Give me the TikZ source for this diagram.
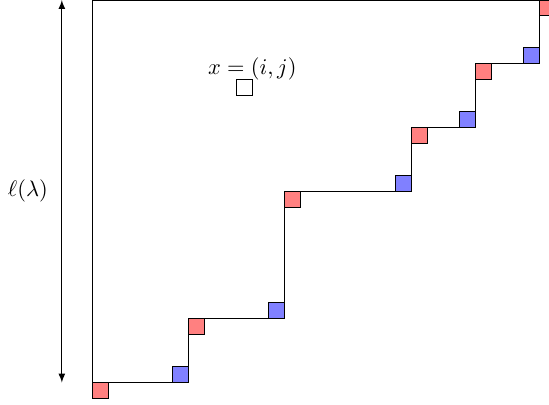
\documentclass[tikz,border=0pt]{standalone}
\usetikzlibrary{arrows}
\begin{document}
\begin{tikzpicture}[x=0.25cm,y=0.25cm,
  redsq/.style={draw=black,fill=red!50},
  bluesq/.style={draw=black,fill=blue!50},
  cellbox/.style={draw=black},
  stair/.style={draw=black},
  lenarrow/.style={latex-latex}]
\useasboundingbox (-5.83,-1.38) rectangle (28.61,24.0);
% corners of the staircase
\coordinate (c0) at (0,0);
\coordinate (c1) at (6,0);
\coordinate (c2) at (6,4);
\coordinate (c3) at (12,4);
\coordinate (c4) at (12,12);
\coordinate (c5) at (20,12);
\coordinate (c6) at (20,16);
\coordinate (c7) at (24,16);
\coordinate (c8) at (24,20);
\coordinate (c9) at (28,20);
\coordinate (c10) at (28,24);
\coordinate (tl) at (0,24);
\draw[stair] (tl) -- (c0) -- (c1) -- (c2) -- (c3) -- (c4) -- (c5) -- (c6) -- (c7) -- (c8) -- (c9) -- (c10) -- (tl);
% red squares
\foreach \c in {c0,c2,c4,c6,c8,c10}
  \draw[redsq] (\c) rectangle ++(1,-1);
% blue squares
\foreach \c in {c1,c3,c5,c7,c9}
  \draw[bluesq] (\c) rectangle ++(-1,1);
% cell x
\draw[cellbox] (9,18) rectangle (10,19);
\node (xlab) at (10.0,19.68) {$x=(i,j)$};
% length arrow
\coordinate (ab) at (-1.95,0);
\coordinate (at) at (-1.95,24);
\draw[lenarrow] (ab) -- (at);
\node (ell) at (-4.08,12.0) {$\ell(\lambda)$};
\end{tikzpicture}
\end{document}
